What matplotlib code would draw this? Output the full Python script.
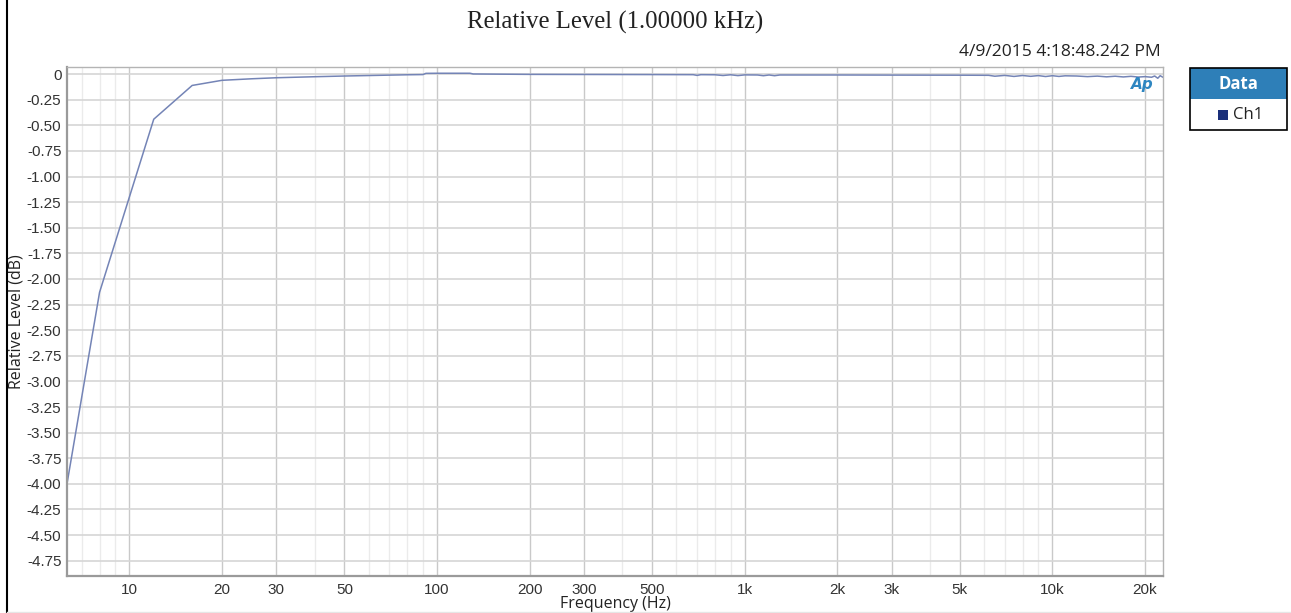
import matplotlib
matplotlib.use("Agg")
import matplotlib.pyplot as plt
from matplotlib.patches import Rectangle
from matplotlib.lines import Line2D
from matplotlib.ticker import FixedLocator, NullFormatter

# ---- data ----
freq_hz = [6.27, 8, 12, 16, 20, 25, 30, 40, 50, 63, 80, 90, 92, 100, 128, 131,
           160, 200, 300, 500, 680, 700, 720, 800, 850, 900, 950, 1000, 1100,
           1150, 1200, 1250, 1300, 2000, 3000, 5000, 6200, 6500, 7000, 7500,
           8000, 8500, 9000, 9500, 10000, 10500, 11000, 12000, 13000, 14000,
           15000, 16000, 17000, 18000, 19000, 20000, 21000, 21500, 22000,
           22400, 22800]
level_db = [-4.0, -2.13, -0.44, -0.11, -0.06, -0.045, -0.035, -0.025, -0.018,
            -0.012, -0.006, -0.004, 0.008, 0.009, 0.009, 0.002,
            0.0, -0.002, -0.003, -0.004, -0.005, -0.012, -0.005, -0.006,
            -0.013, -0.006, -0.014, -0.007, -0.008,
            -0.015, -0.008, -0.015, -0.008, -0.008, -0.009, -0.010, -0.011,
            -0.020, -0.012, -0.022,
            -0.013, -0.021, -0.014, -0.023, -0.015, -0.022, -0.016, -0.018,
            -0.024, -0.019,
            -0.026, -0.020, -0.027, -0.021, -0.028, -0.024, -0.030, -0.018,
            -0.040, -0.015, -0.028]

x_major = [10, 20, 30, 50, 100, 200, 300, 500, 1000, 2000, 3000, 5000, 10000, 20000]
x_labels = ["10", "20", "30", "50", "100", "200", "300", "500",
            "1k", "2k", "3k", "5k", "10k", "20k"]
x_minor = [7, 8, 9, 40, 60, 70, 80, 90, 400, 600, 700, 800, 900,
           4000, 6000, 7000, 8000, 9000]
y_ticks = [0, -0.25, -0.5, -0.75, -1.0, -1.25, -1.5, -1.75, -2.0, -2.25, -2.5,
           -2.75, -3.0, -3.25, -3.5, -3.75, -4.0, -4.25, -4.5, -4.75]
y_labels = ["0"] + [f"{v:.2f}" for v in y_ticks[1:]]

title = "Relative Level (1.00000 kHz)"
timestamp = "4/9/2015 4:18:48.242 PM"
series_name = "Ch1"

# ---- figure ----
W, H = 1291, 613
fig = plt.figure(figsize=(W / 100, H / 100), dpi=100)
fig.patch.set_facecolor("white")

def fx(px):
    return px / W

def fy(py):
    return 1 - py / H

AX_L, AX_R, AX_T, AX_B = 67, 1163, 67, 576
ax = fig.add_axes([fx(AX_L), fy(AX_B), fx(AX_R) - fx(AX_L), fy(AX_T) - fy(AX_B)])
ax.set_xscale("log")
ax.set_xlim(6.27, 22880)
ax.set_ylim(-4.9, 0.07)

tick_font = ["Liberation Sans", "DejaVu Sans"]
ui_font = ["Open Sans", "DejaVu Sans"]

ax.xaxis.set_major_locator(FixedLocator(x_major))
ax.xaxis.set_minor_locator(FixedLocator(x_minor))
ax.xaxis.set_minor_formatter(NullFormatter())
ax.set_xticklabels(x_labels, family=tick_font, fontsize=11, color="#333333")
ax.set_yticks(y_ticks)
ax.set_yticklabels(y_labels, family=tick_font, fontsize=11, color="#333333")
ax.tick_params(axis="both", which="both", length=0)
ax.tick_params(axis="y", pad=4)
ax.tick_params(axis="x", pad=5)

ax.grid(True, which="major", axis="x", color="#c9c9c9", linewidth=1.0)
ax.grid(True, which="minor", axis="x", color="#ebebeb", linewidth=1.0)
ax.grid(True, which="major", axis="y", color="#d6d6d6", linewidth=1.2)
ax.set_axisbelow(True)

for side in ["top", "right"]:
    ax.spines[side].set_color("#b4b4b4")
    ax.spines[side].set_linewidth(1.0)
for side in ["left", "bottom"]:
    ax.spines[side].set_color("#9a9a9a")
    ax.spines[side].set_linewidth(1.6)

ax.plot(freq_hz, level_db, color="#7484b6", linewidth=1.1, solid_joinstyle="round")

xl = ax.set_xlabel("Frequency (Hz)", family=ui_font, fontsize=11.5, color="#222222")
xl.set_va("center")
ax.xaxis.set_label_coords(0.5, -(604 - AX_B) / (AX_B - AX_T))
yl = ax.set_ylabel("Relative Level (dB)", family=ui_font, fontsize=11.5, color="#222222")
yl.set_va("center")
ax.yaxis.set_label_coords(-(AX_L - 17) / (AX_R - AX_L), 0.5)

# title and timestamp
fig.text(fx(615), fy(22), title, ha="center", va="center",
         family=["Liberation Serif", "DejaVu Serif"], fontsize=17.8, color="#222222")
fig.text(fx(1161), fy(52), timestamp, ha="right", va="center",
         family=ui_font, fontsize=12.6, color="#222222")

# AP logo
fig.text(fx(1142), fy(85), "Ap", ha="center", va="center", family=["DejaVu Sans"],
         fontsize=11, fontweight="bold", style="italic", color="#2e86c1")

# left border line
fig.add_artist(Line2D([fx(7), fx(7)], [0, 1], color="black", linewidth=1.5))
fig.add_artist(Line2D([fx(7), 1], [fy(611.5), fy(611.5)], color="#e6e6e6", linewidth=1.0))

# legend box
lx0, lx1 = fx(1190), fx(1287)
ly_top, ly_mid, ly_bot = fy(68), fy(99), fy(130)
fig.add_artist(Rectangle((lx0, ly_mid), lx1 - lx0, ly_top - ly_mid,
                         facecolor="#2e7fb8", edgecolor="none", transform=fig.transFigure))
fig.add_artist(Rectangle((lx0, ly_bot), lx1 - lx0, ly_top - ly_bot,
                         facecolor="none", edgecolor="black", linewidth=1.2,
                         transform=fig.transFigure))
fig.text((lx0 + lx1) / 2, fy(84), "Data", ha="center", va="center", family=ui_font,
         fontsize=12, fontweight="bold", color="white")
fig.add_artist(Rectangle((fx(1218), fy(120)), fx(10), fy(110) - fy(120),
                         facecolor="#1a2f7a", edgecolor="none", transform=fig.transFigure))
fig.text(fx(1233), fy(115), series_name, ha="left", va="center", family=ui_font,
         fontsize=12, color="#222222")

fig.savefig("out.png", dpi=100, facecolor="white")
